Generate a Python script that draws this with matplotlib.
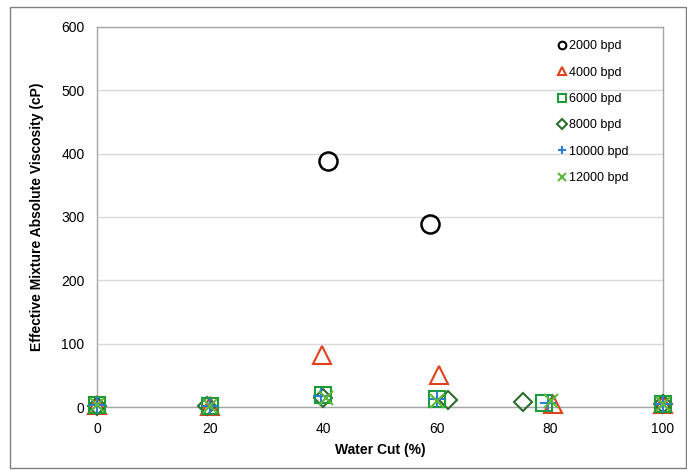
import matplotlib
matplotlib.use("Agg")
import matplotlib.pyplot as plt
from matplotlib.patches import Rectangle

plt.rcParams['font.family'] = ['Liberation Sans', 'DejaVu Sans']

# Data: (water cut %, viscosity cP)
wc_2000 = [40.8, 58.8]
mu_2000 = [389, 289]
wc_4000 = [0, 20, 39.8, 60.4, 80.5, 100]
mu_4000 = [3, 2, 82, 50, 5, 5]
wc_6000 = [0, 20, 40, 60, 79, 100]
mu_6000 = [3, 2, 19, 12, 6, 5]
wc_8000 = [0, 19.5, 40, 62, 75.3, 100]
mu_8000 = [2, 2, 15, 11, 8, 4]
wc_10000 = [0, 20, 39.5, 60, 79.7, 100]
mu_10000 = [3, 2, 17, 12, 6, 5]
wc_12000 = [0, 20, 40.5, 60, 80.2, 100]
mu_12000 = [3, 2, 15, 10, 10, 5]

labels = ['2000 bpd', '4000 bpd', '6000 bpd', '8000 bpd', '10000 bpd', '12000 bpd']
xticks = [0, 20, 40, 60, 80, 100]
yticks = [0, 100, 200, 300, 400, 500, 600]

fig = plt.figure(figsize=(6.87, 4.70), dpi=100)
ax = fig.add_axes([0.1412, 0.134, 0.8238, 0.8086])

series = [
    (wc_2000, mu_2000, 'o', '#000000', 13, 1.8, 3),
    (wc_4000, mu_4000, '^', '#E0401C', 13, 1.5, 3),
    (wc_6000, mu_6000, 's', '#1E9A3A', 12, 1.5, 4),
    (wc_8000, mu_8000, 'D', '#2E6B2E', 9, 1.5, 3),
    (wc_10000, mu_10000, '+', '#2A7FD4', 12, 1.5, 5),
    (wc_12000, mu_12000, 'x', '#5DB83A', 10, 1.5, 5),
]
handles = []
for (x, y, m, c, ms, mew, z), lab in zip(series, labels):
    ax.plot(x, y, linestyle='none', marker=m, markersize=ms,
            markerfacecolor='none', markeredgecolor=c, markeredgewidth=mew,
            zorder=z, clip_on=False)
    h, = ax.plot([], [], linestyle='none', marker=m, markersize=5.5,
                 markerfacecolor='none', markeredgecolor=c, markeredgewidth=1.5,
                 label=lab)
    handles.append(h)

ax.set_xlim(0, 100)
ax.set_ylim(0, 600)
ax.set_xticks(xticks)
ax.set_yticks(yticks)
ax.tick_params(axis='x', length=0, labelsize=10, colors='#000000', pad=11)
ax.tick_params(axis='y', length=0, labelsize=10, colors='#000000', pad=9)
ax.grid(axis='y', color='#D9D9D9', linewidth=1.0, zorder=0)
ax.set_axisbelow(True)
for s in ax.spines.values():
    s.set_color('#A6A6A6')
    s.set_linewidth(1.0)

ax.set_xlabel('Water Cut (%)', fontsize=10, fontweight='bold', labelpad=5)
ax.set_ylabel('Effective Mixture Absolute Viscosity (cP)', fontsize=10,
              fontweight='bold', labelpad=12)

leg = ax.legend(handles=handles, loc='upper left', bbox_to_anchor=(0.795, 0.985),
                frameon=False, fontsize=9, handletextpad=0.0, handlelength=1.2,
                labelspacing=1.15, borderaxespad=0.2)

fig.patches.append(Rectangle((10/687, 2/470), 676/687, 461/470,
                             transform=fig.transFigure, fill=False,
                             edgecolor='#808080', linewidth=1.0))

fig.savefig('out.png', dpi=100)
